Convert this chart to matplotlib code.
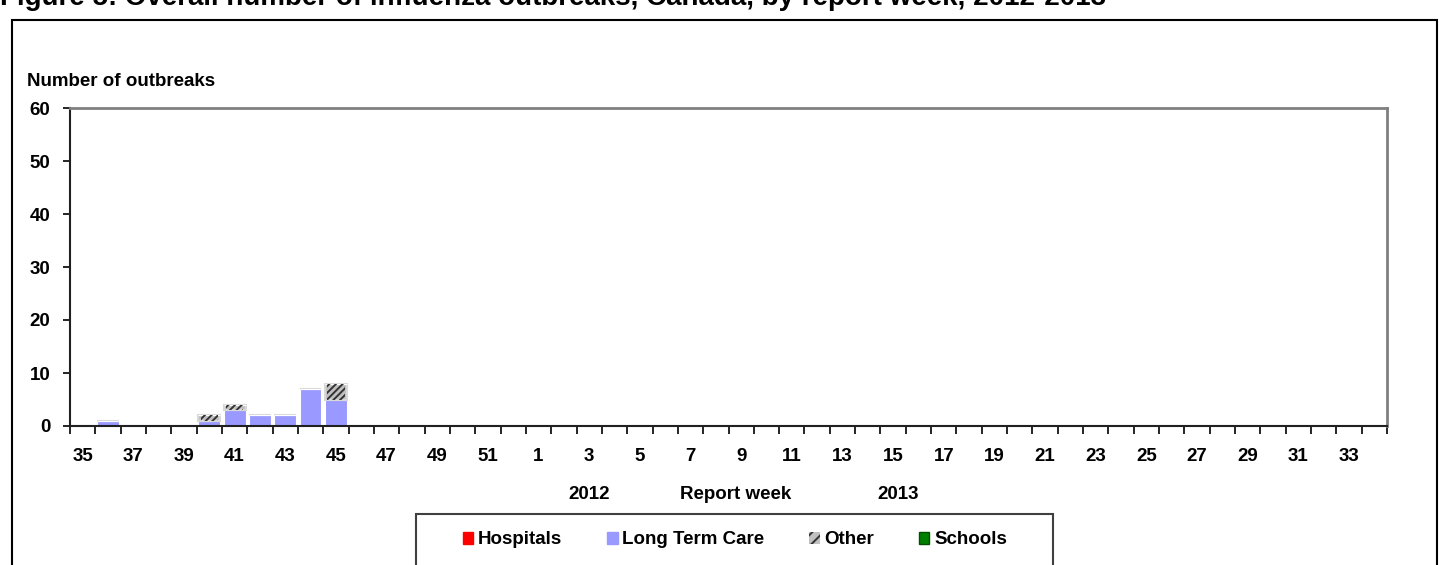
import matplotlib
matplotlib.use("Agg")
import matplotlib.pyplot as plt
from matplotlib.patches import Patch, Rectangle
from matplotlib.transforms import blended_transform_factory
import numpy as np

plt.rcParams['font.family'] = ['Liberation Sans', 'DejaVu Sans']
plt.rcParams['font.weight'] = 'bold'
plt.rcParams['hatch.linewidth'] = 1.4

# report weeks, 2012-2013 season
weeks = list(range(35, 53)) + list(range(1, 35))

# outbreaks per setting, one value per week
hospitals = [0] * 52
long_term_care = [0, 1, 0, 0, 0, 1, 3, 2, 2, 7, 5] + [0] * 41
other = [0, 0, 0, 0, 0, 1, 1, 0, 0, 0, 3] + [0] * 41
schools = [0] * 52

title = "Figure 5: Overall number of influenza outbreaks, Canada, by report week, 2012-2013"

c_hosp = '#FF0000'
c_ltc = '#9999FF'
c_other = '#C0C0C0'
c_school = '#008000'

fig = plt.figure(figsize=(14.39, 5.65), dpi=100)
ax = fig.add_axes([70 / 1439, 1 - 426 / 565, (1387 - 70) / 1439, (426 - 108) / 565])

x = np.arange(len(weeks))
w = 0.86
bottom = np.zeros(len(weeks))

ax.bar(x, hospitals, w, bottom=bottom, color=c_hosp, edgecolor='white', linewidth=0.8, zorder=1)
bottom += hospitals
ax.bar(x, long_term_care, w, bottom=bottom, color=c_ltc, edgecolor='white', linewidth=0.8, zorder=1)
bottom += long_term_care
ax.bar(x, other, w, bottom=bottom, color=c_other, edgecolor='#D8D8D8', linewidth=1.5, zorder=1)
ax.bar(x, other, w * 0.8, bottom=bottom, color='none', edgecolor='#333333', linewidth=0,
       hatch='/////', zorder=1.1)
bottom += other
ax.bar(x, schools, w, bottom=bottom, color=c_school, edgecolor='white', linewidth=0.8, zorder=1)

ax.set_xlim(-0.5, len(weeks) - 0.5)
ax.set_ylim(0, 60)
ax.set_yticks(range(0, 61, 10))
ax.tick_params(axis='y', length=5, width=1.2, pad=9, labelsize=13.5)

# tick marks between categories, labels on every other week
ax.set_xticks(np.arange(-0.5, len(weeks), 1))
ax.set_xticklabels([])
ax.set_xticks(x[::2], minor=True)
ax.set_xticklabels([str(wk) for wk in weeks[::2]], minor=True)
ax.tick_params(axis='x', which='major', length=6, width=1.2)
ax.tick_params(axis='x', which='minor', length=0, pad=16, labelsize=13.5)

for side in ['top', 'right']:
    ax.spines[side].set_color('#808080')
    ax.spines[side].set_linewidth(2)
ax.spines['left'].set_color('#202020')
ax.spines['bottom'].set_color('#202020')
ax.spines['left'].set_linewidth(1.5)
ax.spines['bottom'].set_linewidth(1.5)

trans = blended_transform_factory(ax.transData, ax.transAxes)
ax.text(20, -0.214, '2012', transform=trans, ha='center', va='center', fontsize=13.5)
ax.text(25.8, -0.214, 'Report week', transform=trans, ha='center', va='center', fontsize=13.5)
ax.text(32.2, -0.214, '2013', transform=trans, ha='center', va='center', fontsize=13.5)

fig.text(27 / 1439, 1 - 82 / 565, 'Number of outbreaks', ha='left', va='center', fontsize=13.5)
fig.text(0, 1 - 5 / 565, title, ha='left', va='baseline', fontsize=20)

# outer frame and legend box
fig.patches.append(Rectangle((12 / 1439, -0.05), (1437 - 12) / 1439, 1.05 - 20 / 565,
                             transform=fig.transFigure, fill=False, edgecolor='black', linewidth=1.5))
fig.patches.append(Rectangle((416 / 1439, -0.05), (1053 - 416) / 1439, 0.05 + 1 - 514 / 565,
                             transform=fig.transFigure, fill=False, edgecolor='#404040', linewidth=1.5))

handles = [
    Patch(facecolor=c_hosp, edgecolor=c_hosp, label='Hospitals'),
    Patch(facecolor=c_ltc, edgecolor=c_ltc, label='Long Term Care'),
    Patch(facecolor=c_other, edgecolor='#333333', hatch='///', linewidth=0, label='Other'),
    Patch(facecolor=c_school, edgecolor='#005000', label='Schools'),
]
fig.legend(handles=handles, loc='center', bbox_to_anchor=(735 / 1439, 1 - 540 / 565), ncol=4,
           frameon=False, fontsize=13.5, handlelength=0.55, handleheight=0.55,
           handletextpad=0.25, columnspacing=2.4)

fig.savefig('out.png', dpi=100)
